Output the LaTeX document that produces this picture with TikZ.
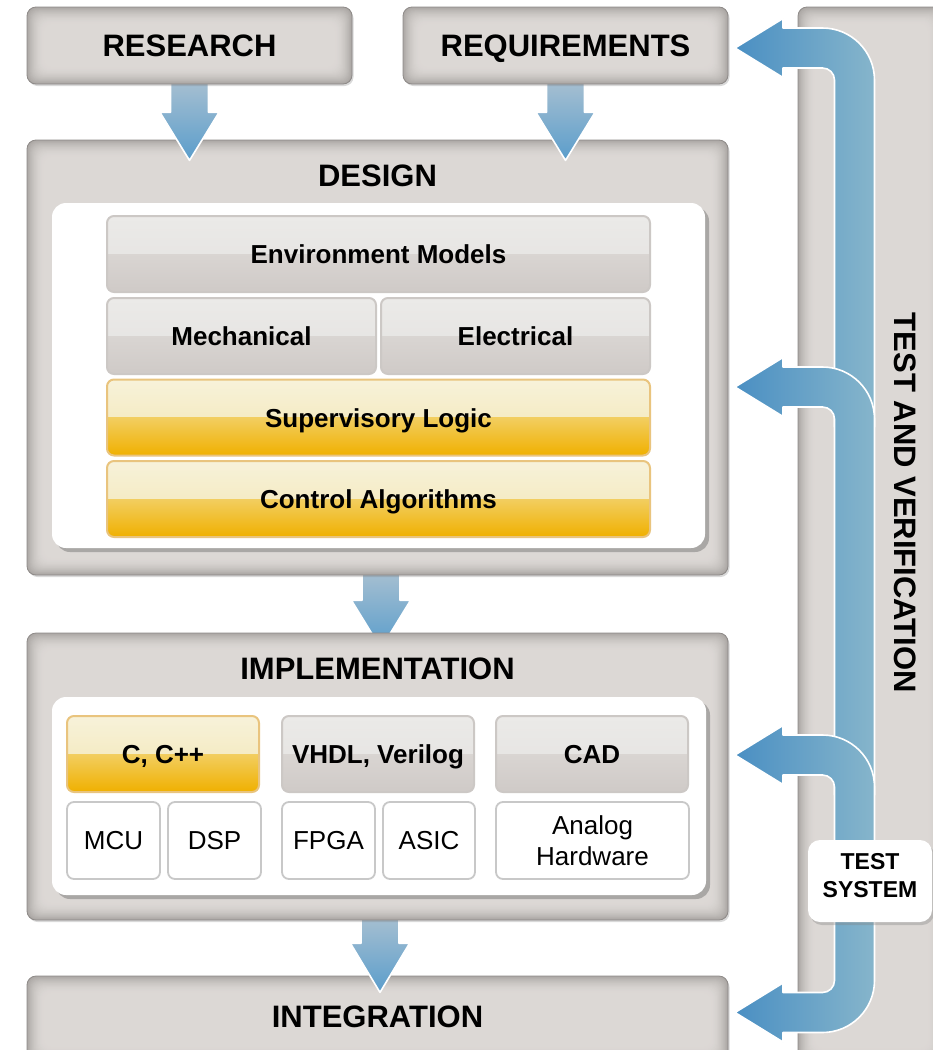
\documentclass[tikz,border=0pt]{standalone}
\usepackage{fontspec}
\setmainfont{Liberation Sans}
\usetikzlibrary{calc,shadows}

% palette
\definecolor{platedark}{HTML}{ABA7A4}
\definecolor{platelight}{HTML}{DCD8D5}
\definecolor{plateedge}{HTML}{8E8A88}
\definecolor{gtA}{HTML}{EBEAE8}
\definecolor{gtB}{HTML}{E3E1DF}
\definecolor{gbA}{HTML}{D9D5D2}
\definecolor{gbB}{HTML}{CFCAC7}
\definecolor{glossedge}{HTML}{CCC8C5}
\definecolor{ytA}{HTML}{F7F2DA}
\definecolor{ytB}{HTML}{F3E5B0}
\definecolor{ybA}{HTML}{F2CE60}
\definecolor{ybB}{HTML}{F0B000}
\definecolor{yeledge}{HTML}{E9C47E}
\definecolor{celledge}{HTML}{C8C8C8}
\definecolor{fbdark}{HTML}{4A8FC3}
\definecolor{fblight}{HTML}{86B5CB}
\definecolor{dnlight}{HTML}{A6BFD1}
\definecolor{dndark}{HTML}{5A9DCB}

\newcommand\fTitle{\fontsize{31}{36}\selectfont\bfseries}
\newcommand\fLabel{\fontsize{26}{31}\selectfont\bfseries}
\newcommand\fPlain{\fontsize{26}{31}\selectfont}
\newcommand\fSmall{\fontsize{23}{28}\selectfont\bfseries}

\pgfdeclarelayer{under}
\pgfdeclarelayer{mid}
\pgfdeclarelayer{over}
\pgfdeclarelayer{front}
\pgfsetlayers{under,mid,over,main,front}

% block arrow pointing down: start point, head start offset, tip offset
\newcommand\blockdown[3]{%
  \path[downarrow] ($(#1)+(-19,-3)$) -- ($(#1)+(19,-3)$) -- ($(#1)+(19,#2)$)
    -- ($(#1)+(29.5,#2)$) -- ($(#1)+(0,#3)$) -- ($(#1)+(-29.5,#2)$)
    -- ($(#1)+(-19,#2)$) -- cycle;}

% feedback arrow: rises from below, bends left into a tip
\newcommand\feedup[2]{%
  \begin{scope}[shift={(#1)}]
    \path[fbarrow] (139.5,#2) -- (139.5,32) .. controls (139.5,3.3) and (116.2,-20) .. (87.5,-20)
      -- (48,-20) -- (48,-29.5) -- (0,0) -- (48,29.5) -- (48,20) -- (87.5,20)
      .. controls (94.1,20) and (99.5,25.4) .. (99.5,32) -- (99.5,#2) -- cycle;
  \end{scope}}

% feedback arrow: falls from above, bends left into a tip
\newcommand\feeddown[2]{%
  \begin{scope}[shift={(#1)}]
    \path[fbarrow] (99.5,#2) -- (99.5,-32) .. controls (99.5,-25.4) and (94.1,-20) .. (87.5,-20)
      -- (48,-20) -- (48,-29.5) -- (0,0) -- (48,29.5) -- (48,20) -- (87.5,20)
      .. controls (116.2,20) and (139.5,-3.3) .. (139.5,-32) -- (139.5,#2) -- cycle;
  \end{scope}}

\begin{document}
\begin{tikzpicture}[x=1pt,y=-1pt,
  plate/.style={rounded corners=9pt, draw=plateedge, line width=0.8pt, fill=platedark,
    inner sep=0pt, font=\fTitle, text height=22.5pt, text depth=0pt,
    drop shadow={shadow xshift=1.5pt, shadow yshift=-2pt, opacity=0.3},
    path picture={
      \foreach \i in {1,...,22}{
        \pgfmathtruncatemacro\p{round(100*(1-(1-\i/22)^2))}
        \fill[platelight!\p!platedark, rounded corners=9pt]
          ($(path picture bounding box.south west)+({0.8pt*\i},{0.8pt*\i})$) rectangle
          ($(path picture bounding box.north east)-({0.8pt*\i},{0.8pt*\i})$);
      }}},
  whitepanel/.style={fill=white, rounded corners=14pt, inner sep=0pt,
    drop shadow={shadow xshift=4pt, shadow yshift=-4pt, opacity=0.35, fill=black!70}},
  gloss/.style n args={5}{rounded corners=7pt, draw=#1, line width=2pt, fill=#5, inner sep=0pt,
    path picture={
      \fill[sharp corners, top color=#2, bottom color=#3]
        (path picture bounding box.north west) rectangle (path picture bounding box.east);
      \fill[sharp corners, top color=#4, bottom color=#5]
        (path picture bounding box.west) rectangle (path picture bounding box.south east);}},
  graygloss/.style={gloss={glossedge}{gtA}{gtB}{gbA}{gbB}, font=\fLabel,
    text height=19pt, text depth=0pt},
  yellowgloss/.style={gloss={yeledge}{ytA}{ytB}{ybA}{ybB}, font=\fLabel,
    text height=19pt, text depth=0pt},
  cell/.style={fill=white, draw=celledge, line width=1.8pt, rounded corners=7pt,
    inner sep=0pt, font=\fPlain, align=center},
  fbarrow/.style={left color=fbdark, right color=fblight, draw=white, line width=1.6pt,
    line join=round},
  downarrow/.style={top color=dnlight, bottom color=dndark, draw=white, line width=1.6pt,
    line join=round},
  testbox/.style={fill=white, rounded corners=12pt, inner sep=0pt,
    drop shadow={shadow xshift=2pt, shadow yshift=-3pt, opacity=0.35}}
]
\useasboundingbox (0,0) rectangle (933,1050);

% top row
\begin{pgfonlayer}{front}
  \node[plate, minimum width=325pt, minimum height=77pt] (research) at (189.5,45.5) {RESEARCH};
  \node[plate, minimum width=325pt, minimum height=77pt] (requirements) at (565.5,45.5) {REQUIREMENTS};
\end{pgfonlayer}

% design stage
\node[plate, minimum width=701pt, minimum height=435pt] (design) at (377.5,357.5) {};
\node[font=\fTitle] (designT) at (377.5,176) {DESIGN};
\node[whitepanel, minimum width=653pt, minimum height=345pt] (designP) at (378.5,375.5) {};
\node[graygloss, minimum width=543pt, minimum height=76pt] (env) at (378.5,254) {Environment Models};
\node[graygloss, minimum width=269pt, minimum height=76pt] (mech) at (241.5,336) {Mechanical};
\node[graygloss, minimum width=269pt, minimum height=76pt] (elec) at (515.5,336) {Electrical};
\node[yellowgloss, minimum width=543pt, minimum height=76pt] (superv) at (378.5,417.5) {Supervisory Logic};
\node[yellowgloss, minimum width=543pt, minimum height=76pt] (ctrl) at (378.5,499) {Control Algorithms};

% implementation stage
\node[plate, minimum width=701pt, minimum height=287pt] (impl) at (377.5,776.5) {};
\node[font=\fTitle] (implT) at (377.5,669) {IMPLEMENTATION};
\node[whitepanel, minimum width=654pt, minimum height=198pt] (implP) at (379,796) {};
\node[yellowgloss, minimum width=192pt, minimum height=76pt] (cpp) at (163,754) {C, C++};
\node[graygloss, minimum width=192pt, minimum height=76pt] (vhdl) at (378,754) {VHDL, Verilog};
\node[graygloss, minimum width=192pt, minimum height=76pt] (cad) at (592,754) {CAD};
\node[cell, minimum width=93pt, minimum height=77pt] (mcu) at (113.5,840.5) {MCU};
\node[cell, minimum width=93pt, minimum height=77pt] (dsp) at (214.5,840.5) {DSP};
\node[cell, minimum width=93pt, minimum height=77pt] (fpga) at (328.5,840.5) {FPGA};
\node[cell, minimum width=92pt, minimum height=77pt] (asic) at (429,840.5) {ASIC};
\node[cell, minimum width=193pt, minimum height=77pt] (analog) at (592.5,840.5) {Analog\\Hardware};

% integration stage
\begin{pgfonlayer}{mid}
  \node[plate, minimum width=701pt, minimum height=88pt, text depth=8pt] (integ) at (377.5,1020) {INTEGRATION};
\end{pgfonlayer}

% flow between stages
\blockdown{research.south}{28}{76}
\blockdown{requirements.south}{28}{76}
\coordinate (implIn) at ($(design.south)+(3.5,0)$);
\coordinate (integIn) at ($(impl.south)+(2.5,0)$);
\begin{pgfonlayer}{under}
  \blockdown{implIn}{25}{73}
\end{pgfonlayer}
\begin{pgfonlayer}{over}
  \blockdown{integIn}{23}{72}
\end{pgfonlayer}

% test and verification column
\begin{pgfonlayer}{under}
  \node[plate, minimum width=147pt, minimum height=1058pt] (tv) at (871.5,536) {};
  \node[font=\fTitle, rotate=-90] (tvT) at (905,503) {TEST AND VERIFICATION};
  \coordinate (fbReq) at (735,48);
  \coordinate (fbDes) at (735,387);
  \coordinate (fbImp) at (735,755);
  \coordinate (fbInt) at (735,1012.5);
  \feedup{fbReq}{379}
  \feedup{fbDes}{408}
  \feedup{fbImp}{125}
  \feeddown{fbInt}{-132}
\end{pgfonlayer}

\begin{pgfonlayer}{front}
  \node[testbox, minimum width=124pt, minimum height=82pt] (testsys) at (870,881) {};
  \node[font=\fSmall, align=center] (testsysT) at ($(testsys.center)+(0,-5)$) {TEST\\SYSTEM};
\end{pgfonlayer}
\end{tikzpicture}
\end{document}
